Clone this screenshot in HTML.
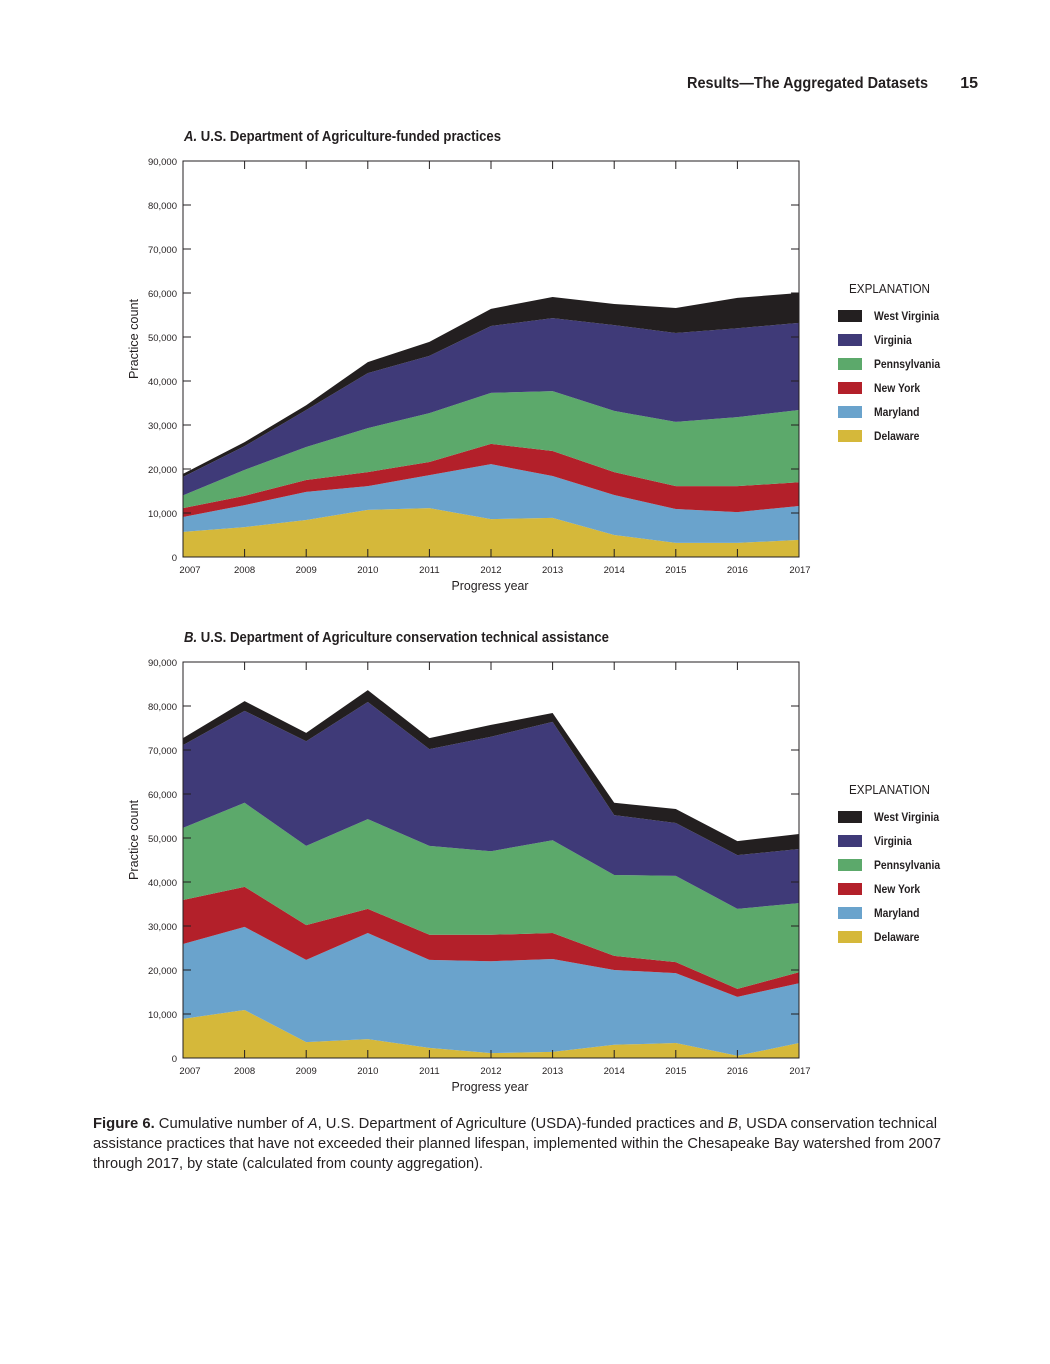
<!DOCTYPE html>
<html><head><meta charset="utf-8">
<style>
body{margin:0;background:#fff;}
svg text{font-family:"Liberation Sans Narrow","Liberation Sans",sans-serif;fill:#231f20;}
</style></head>
<body>
<svg id="page" width="1050" height="1359" viewBox="0 0 1050 1359" xmlns="http://www.w3.org/2000/svg">
<text x="687" y="88" font-size="16" font-weight="bold" textLength="241" lengthAdjust="spacingAndGlyphs">Results—The Aggregated Datasets</text>
<text x="978" y="88" text-anchor="end" font-size="16" font-weight="bold">15</text>
<g id="chartA"></g>
<g id="chartB"></g>
<text x="93" y="1128" font-size="15" textLength="844" lengthAdjust="spacingAndGlyphs"><tspan font-weight="bold">Figure 6.</tspan>    Cumulative number of <tspan font-style="italic">A</tspan>, U.S. Department of Agriculture (USDA)-funded practices and <tspan font-style="italic">B</tspan>, USDA conservation technical</text>
<text x="93" y="1148" font-size="15" textLength="848" lengthAdjust="spacingAndGlyphs">assistance practices that have not exceeded their planned lifespan, implemented within the Chesapeake Bay watershed from 2007</text>
<text x="93" y="1168" font-size="15" textLength="390" lengthAdjust="spacingAndGlyphs">through 2017, by state (calculated from county aggregation).</text>
</svg>
<script>
const years = [2007,2008,2009,2010,2011,2012,2013,2014,2015,2016,2017];
const states = ["Delaware","Maryland","New York","Pennsylvania","Virginia","West Virginia"];
const colors = ["#d5b83a","#6aa3cc","#b3202a","#5ca96b","#3f3a78","#231f20"];
const yTicks = [0,10000,20000,30000,40000,50000,60000,70000,80000,90000];
// Chart A values (thousands)
const aDelaware = [5.7,6.8,8.4,10.7,11.1,8.6,8.9,5.0,3.2,3.2,3.9];
const aMaryland = [3.4,5.0,6.4,5.4,7.5,12.5,9.5,9.1,7.7,7.0,7.7];
const aNewYork = [2.0,2.1,2.7,3.2,3.0,4.6,5.7,5.2,5.2,5.9,5.4];
const aPennsylvania = [2.9,5.9,7.5,10.0,11.1,11.6,13.6,13.9,14.6,15.7,16.4];
const aVirginia = [4.2,5.4,8.4,12.5,13.0,15.2,16.6,19.5,20.2,20.2,19.8];
const aWestVirginia = [0.7,0.9,1.1,2.5,3.2,3.9,4.8,4.8,5.7,6.9,6.8];
// Chart B values (thousands)
const bDelaware = [8.9,10.9,3.6,4.3,2.3,1.1,1.4,3.0,3.4,0.5,3.4];
const bMaryland = [17.0,18.9,18.7,24.1,20.0,20.9,21.1,17.0,15.9,13.4,13.6];
const bNewYork = [10.0,9.1,7.9,5.5,5.7,6.0,5.9,3.2,2.5,1.8,2.5];
const bPennsylvania = [16.4,19.1,18.0,20.4,20.2,19.0,21.1,18.4,19.6,18.2,15.7];
const bVirginia = [18.8,20.9,23.8,26.6,22.0,26.0,26.9,13.6,12.0,12.2,12.3];
const bWestVirginia = [1.6,2.2,1.9,2.7,2.5,2.7,2.0,2.8,3.2,3.2,3.4];

const NS="http://www.w3.org/2000/svg";
function mk(tag,attrs,parent){const e=document.createElementNS(NS,tag);for(const k in attrs)e.setAttribute(k,attrs[k]);parent.appendChild(e);return e;}

function drawChart(g, top, title, titleLen, series){
  const L=183,R=799,T=top,B=top+396;
  const x=i=>L+(R-L)*i/(years.length-1);
  const y=v=>B-(B-T)*v/90000;
  const t=mk('text',{x:184,y:T-20,'font-size':15,'font-weight':'bold',textLength:titleLen,lengthAdjust:'spacingAndGlyphs'},g);
  
  
  t.innerHTML=title;
  let base=years.map(()=>0);
  series.forEach((s,si)=>{
    const tops=s.map((v,i)=>base[i]+v*1000);
    let d='M'+years.map((_,i)=>x(i)+','+y(tops[i])).join(' L');
    for(let i=years.length-1;i>=0;i--) d+=' L'+x(i)+','+y(base[i]);
    d+='Z';
    const p=mk('path',{d:d,fill:colors[si]},g);
    
    
    base=tops;
  });
  const fr=mk('rect',{x:L,y:T,width:R-L,height:B-T,fill:'none',stroke:'#231f20','stroke-width':1},g);
  
  
  yTicks.forEach(v=>{
    const yy=y(v);
    mk('line',{x1:L,x2:L+8,y1:yy,y2:yy,stroke:'#231f20'},g);
    mk('line',{x1:R-8,x2:R,y1:yy,y2:yy,stroke:'#231f20'},g);
    const tl=mk('text',{x:177,y:yy+4,'text-anchor':'end','font-size':9.5},g);
    
    
    tl.textContent=v.toLocaleString('en-US');
  });
  years.forEach((yr,i)=>{
    const xx=x(i);
    mk('line',{x1:xx,x2:xx,y1:T,y2:T+8,stroke:'#231f20'},g);
    mk('line',{x1:xx,x2:xx,y1:B-8,y2:B,stroke:'#231f20'},g);
    const tl=mk('text',{x:xx+(i===0?7:i===years.length-1?1:0),y:B+16,'text-anchor':'middle','font-size':9.5},g);
    
    
    tl.textContent=yr;
  });
  const xt=mk('text',{x:490,y:B+33,'text-anchor':'middle','font-size':13,textLength:77,lengthAdjust:'spacingAndGlyphs'},g);
  
  
  xt.textContent='Progress year';
  const yt=mk('text',{x:0,y:0,'text-anchor':'middle','font-size':13,textLength:80,lengthAdjust:'spacingAndGlyphs',transform:`translate(138,${(T+B)/2-20}) rotate(-90)`},g);
  
  
  yt.textContent='Practice count';
  const ly=T+132;
  const lt=mk('text',{x:849,y:ly,'font-size':13,textLength:81,lengthAdjust:'spacingAndGlyphs'},g);
  
  
  lt.textContent='EXPLANATION';
  for(let k=5;k>=0;k--){
    const row=5-k;
    const yy=ly+17+row*24;
    const sw=mk('rect',{x:838,y:yy,width:24,height:12,fill:colors[k]},g);
    
    
    const tx=mk('text',{x:874,y:yy+10,'font-size':11.5,'font-weight':'bold','transform':`translate(874,0) scale(0.9,1) translate(-874,0)`},g);
    
    
    tx.textContent=states[k];
  }
}
drawChart(document.getElementById('chartA'),161,'<tspan font-style="italic">A.</tspan> U.S. Department of Agriculture-funded practices',317,
  [aDelaware,aMaryland,aNewYork,aPennsylvania,aVirginia,aWestVirginia]);
drawChart(document.getElementById('chartB'),662,'<tspan font-style="italic">B.</tspan> U.S. Department of Agriculture conservation technical assistance',425,
  [bDelaware,bMaryland,bNewYork,bPennsylvania,bVirginia,bWestVirginia]);
</script>
</body></html>
